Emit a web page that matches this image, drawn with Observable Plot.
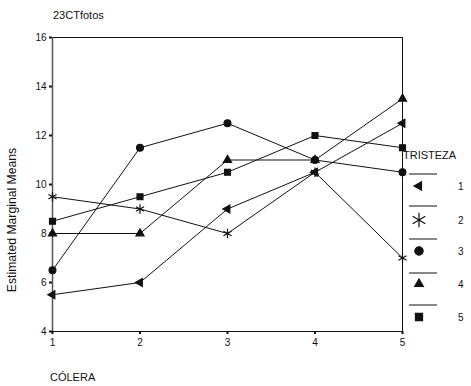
<!DOCTYPE html>
<html><head><meta charset="utf-8">
<script src="https://cdn.jsdelivr.net/npm/d3@7"></script>
<script src="https://cdn.jsdelivr.net/npm/@observablehq/plot@0.6"></script>
<style>
body{margin:0;background:#fff;font-family:"Liberation Sans",Arial,sans-serif;}
#wrap{position:relative;width:471px;height:386px;}
.t{position:absolute;font-size:11px;color:#111;white-space:nowrap;}
</style></head><body>
<div id="wrap"></div>
<script>
const title = "23CTfotos";
const xTitle = "CÓLERA";
const yTitle = "Estimated Marginal Means";
const legendTitle = "TRISTEZA";
const colera = [1, 2, 3, 4, 5];
const tristeza = ["1", "2", "3", "4", "5"];
const s1 = [5.5, 6, 9, 10.5, 12.5];
const s2 = [9.5, 9, 8, 10.5, 7];
const s3 = [6.5, 11.5, 12.5, 11, 10.5];
const s4 = [8, 8, 11, 11, 13.5];
const s5 = [8.5, 9.5, 10.5, 12, 11.5];
const series = [s1, s2, s3, s4, s5];
const yTicks = [4, 6, 8, 10, 12, 14, 16];

const triLeft = {draw(ctx, size){const s3=Math.sqrt(3);const y=-Math.sqrt(size/(s3*3));ctx.moveTo(y*2,0);ctx.lineTo(-y,-s3*y);ctx.lineTo(-y,s3*y);ctx.closePath();}};
const symbols = [triLeft, d3.symbolAsterisk, d3.symbolCircle, d3.symbolTriangle, d3.symbolSquare];
const sizes = [3.7, 8, 4.8, 3.7, 4.6];

const data = [];
series.forEach((vals, i) => vals.forEach((v, j) => data.push({c: colera[j], m: v, g: tristeza[i], k: i})));

const chart = Plot.plot({
  width: 471, height: 386,
  marginLeft: 52, marginRight: 69, marginTop: 37, marginBottom: 55,
  style: {fontFamily: '"Liberation Sans",Arial,sans-serif', fontSize: "10px", color: "#111", background: "white"},
  x: {domain: [1, 5], ticks: colera, tickFormat: d => d, tickSize: 3, tickPadding: 4, label: null},
  y: {domain: [4, 16], ticks: yTicks, tickSize: 3, tickPadding: 3, label: null},
  symbol: {domain: tristeza, range: symbols},
  marks: [
    Plot.frame({stroke: "#111", strokeWidth: 1}),
    Plot.ruleX([1], {stroke: "#555", strokeWidth: 1.5}),
    Plot.lineY(data, {x: "c", y: "m", z: "g", stroke: "#111", strokeWidth: 1}),
    Plot.dot(data, {x: "c", y: "m", symbol: "g", r: d => sizes[d.k], fill: "#111", stroke: "#111", strokeWidth: 1.2})
  ]
});
chart.style.position = "absolute"; chart.style.left = "0"; chart.style.top = "0";
chart.querySelectorAll("[aria-label='x-axis tick'] path, [aria-label='y-axis tick'] path").forEach(p => p.setAttribute("stroke-width", "2"));
const wrap = document.getElementById("wrap");
wrap.appendChild(chart);

function addText(txt, left, top, extra) {
  const d = document.createElement("div"); d.className = "t"; d.textContent = txt;
  d.style.left = left + "px"; d.style.top = top + "px";
  if (extra) Object.assign(d.style, extra);
  wrap.appendChild(d);
}
addText(title, 53, 9, {fontSize: "11px"});
addText(xTitle, 50, 371, {fontSize: "11px"});
const yl = document.createElement("div"); yl.className = "t"; yl.textContent = yTitle;
Object.assign(yl.style, {left: "12px", top: "220px", fontSize: "12.2px", transform: "translate(-50%,-50%) rotate(-90deg)"});
wrap.appendChild(yl);
addText(legendTitle, 403, 149, {fontSize: "11px"});

// legend
const ns = "http://www.w3.org/2000/svg";
const lg = document.createElementNS(ns, "svg");
lg.setAttribute("width", 471); lg.setAttribute("height", 386);
Object.assign(lg.style, {position: "absolute", left: "0", top: "0", pointerEvents: "none"});
const lineYs = [174, 206, 239, 273, 305];
const symYs = [186, 220, 251, 284, 317];
tristeza.forEach((lab, i) => {
  const l = document.createElementNS(ns, "line");
  l.setAttribute("x1", 409); l.setAttribute("x2", 437); l.setAttribute("y1", lineYs[i]); l.setAttribute("y2", lineYs[i]);
  l.setAttribute("stroke", "#111"); l.setAttribute("stroke-width", 1);
  lg.appendChild(l);
  const p = document.createElementNS(ns, "path");
  p.setAttribute("d", d3.symbol(symbols[i], Math.PI * sizes[i] * sizes[i] * 0.75)());
  p.setAttribute("transform", `translate(419,${symYs[i]})`);
  p.setAttribute("fill", "#111"); p.setAttribute("stroke", "#111"); p.setAttribute("stroke-width", 1.2);
  lg.appendChild(p);
  const t = document.createElementNS(ns, "text");
  t.setAttribute("x", 458); t.setAttribute("y", symYs[i]); t.setAttribute("dy", "0.35em");
  t.setAttribute("font-size", "10"); t.setAttribute("font-family", '"Liberation Sans",Arial,sans-serif'); t.setAttribute("fill", "#111");
  t.textContent = lab;
  lg.appendChild(t);
});
wrap.appendChild(lg);
</script>
</body></html>
